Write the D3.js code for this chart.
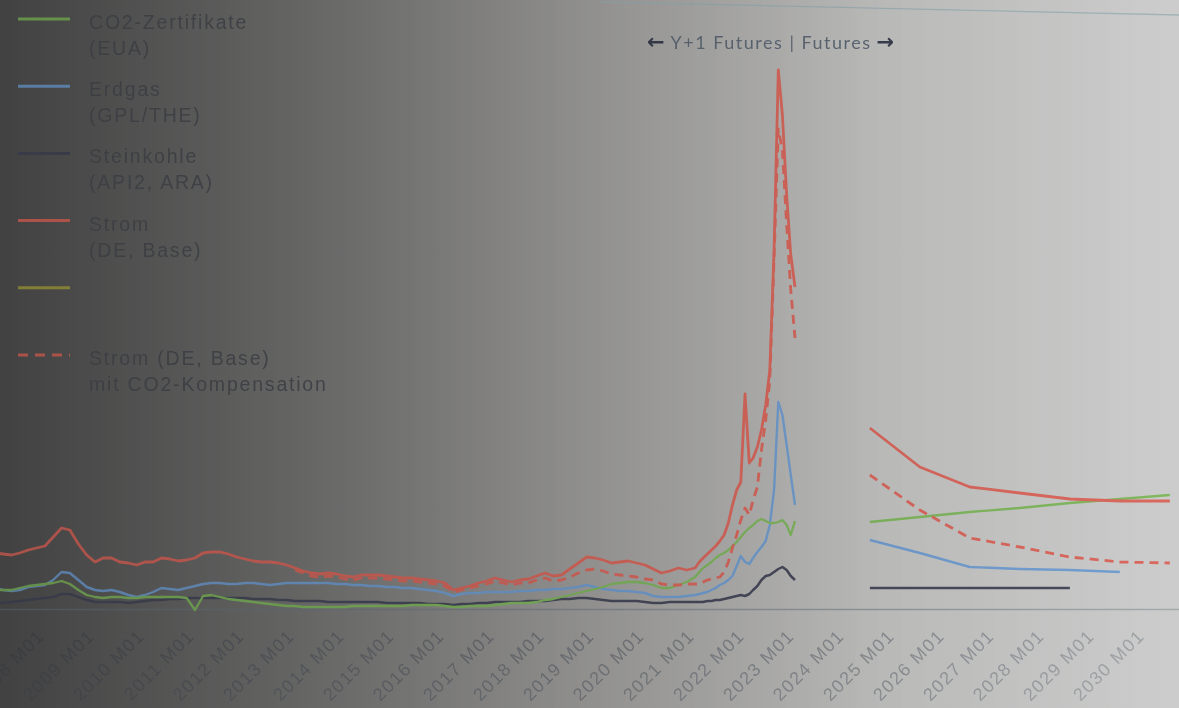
<!DOCTYPE html>
<html><head><meta charset="utf-8">
<script src="https://cdn.jsdelivr.net/npm/d3@7"></script>
<style>html,body{margin:0;padding:0;background:#777;overflow:hidden}svg{display:block}</style>
</head><body>
<svg id="c" width="1179" height="708"></svg>
<script>
// ---------- DATA ----------
// historical dates: every 2nd month 2007-2020, monthly 2021 - Jan 2023
const histDates = [
  ...d3.timeMonth.every(2).range(new Date(2007,0,1), new Date(2021,0,1)),
  ...d3.timeMonth.range(new Date(2021,0,1), new Date(2023,1,1))
];
const powerHist = [
  57,56,55,57,60,62,  64,73,82,80,66,55,  48,52,52,48,47,45,  48,48,52,51,49,50,
  52,57,58,58,56,53,  51,49,48,48,47,45,  42,39,37,36,37,36,  34,33,35,35,35,34,
  33,32,32,31,30,29,  27,20,22,24,27,29,  32,30,28,30,31,34,  37,34,35,41,47,53,
  52,50,47,48,49,47,  45,41,37,39,42,40,
  42,48,52,56,60,64,69,75,87,105,120,128,
  216,147,152,163,180,205,240,360,540,495,415,355,
  323
];
const powerCompHist = [
  null,null,null,null,null,null, null,null,null,null,null,null, null,null,null,null,null,null,
  null,null,null,null,null,null, null,null,null,null,null,null, null,null,null,null,null,null,
  40,37,34,33,34,33,  31,30,32,32,32,31,  30,29,29,28,27,26,  24,18,20,22,24,26,
  29,27,25,27,27,30,  32,29,30,33,37,40,  41,39,36,35,34,33,  31,30,26,25,25,26,
  26,26,28,30,31,32,33,38,48,62,75,90,
  102,95,110,123,160,190,230,350,481,460,385,320,
  272
];
const gasHist = [
  22,20,19,20,23,24,  25,30,38,37,30,23,  20,19,20,18,15,13,  15,18,22,21,20,22,
  24,26,27,27,26,26,  27,27,26,25,26,27,  27,27,27,27,27,26,  26,25,25,24,24,23,
  23,22,22,21,20,19,  17,14,16,17,17,18,  18,18,18,19,19,20,  20,21,21,22,23,25,
  23,21,20,19,19,18,  17,14,13,13,13,14,
  15,16,17,18,20,22,25,27,30,34,44,54,
  48,46,52,58,63,69,85,120,208,195,165,135,
  105
];
const co2Hist = [
  20,20,20,22,24,25,  26,27,29,26,20,15,  13,12,13,13,12,12,  13,13,13,13,13,12,
  0,14,15,13,11,10,   9,8,7,6,5,4,        4,3,3,3,3,3,        3,4,4,4,4,4,
  4,4,5,5,5,5,        4,3,3,4,4,4,        5,6,7,7,7,8,        10,11,13,15,17,19,
  21,23,26,27,28,28,  27,25,22,22,25,28,
  33,38,42,45,48,52,55,57,60,64,68,73,
  78,82,85,89,91,89,87,87,88,90,85,75,
  89
];
const coalHist = [
  7,7,8,9,10,11,      12,13,16,16,13,10,  8,8,8,8,7,8,        9,10,10,11,11,12,
  12,12,12,12,12,12,  12,11,11,11,10,10,  9,9,9,9,8,8,        8,8,8,8,8,7,
  7,7,7,7,6,6,        6,5,6,6,7,7,        8,8,8,8,9,9,        9,10,11,11,12,12,
  11,10,9,9,9,9,      8,7,7,8,8,8,
  8,8,8,9,9,10,10,11,12,13,14,15,
  14,16,20,24,30,34,35,38,41,43,40,34,
  30
];
// futures (calendar years, plotted mid-year)
const futYears = [2024,2025,2026,2027,2028,2029,2030];
const powerFut     = [182,143,123,117,111,109,109];
const powerCompFut = [135,100,72,63,53,48,47];
const co2Fut       = [88,93,98,102,107,111,115];
const gasFut       = [70,57,43,41,40,38,null];
const coalFut      = [22,22,22,22,22,null,null];

const tickYears = [2008,2009,2010,2011,2012,2013,2014,2015,2016,2017,2018,2019,
                   2020,2021,2022,2023,2024,2025,2026,2027,2028,2029,2030];
const legendLabels = [
  ["CO2-Zertifikate","(EUA)"],
  ["Erdgas","(GPL/THE)"],
  ["Steinkohle","(API2, ARA)"],
  ["Strom","(DE, Base)"],
  [],
  ["Strom (DE, Base)","mit CO2-Kompensation"]
];
const annotation = ["Y+1 Futures | Futures"];

// ---------- STYLE ----------
const C = {co2:"#8fcc6a", gas:"#7fb0e8", coal:"#505366", power:"#f27468", olive:"#b8b24e"};
const W = 1179, H = 708;

const svg = d3.select("#c");
const defs = svg.append("defs");
function grad(id, stops){
  const g = defs.append("linearGradient").attr("id",id)
    .attr("gradientUnits","userSpaceOnUse").attr("x1",0).attr("y1",0).attr("x2",W).attr("y2",0);
  stops.forEach(s=>g.append("stop").attr("offset",s[0]).attr("stop-color",s[1]).attr("stop-opacity",s[2]==null?1:s[2]));
}
grad("bg",[[0,"#5e5e5e"],[0.25,"#868685"],[0.5,"#b5b4b2"],[0.75,"#dadad9"],[1,"#e4e4e4"]]);
grad("shade",[[0,"#000",0.3],[0.25,"#000",0.25],[0.5,"#000",0.2],[0.75,"#000",0.15],[1,"#000",0.1]]);
grad("axisInk",[[0,"#6e757c"],[1,"#b8bec0"]]);
const inkAt = d3.scaleLinear().domain([0,W]).range(["#505359","#b4b8bc"]).clamp(true);
defs.append("filter").attr("id","soft").attr("x",-0.05).attr("y",-0.05).attr("width",1.1).attr("height",1.1)
  .attr("color-interpolation-filters","sRGB")
  .append("feGaussianBlur").attr("stdDeviation",0.75);

const root = svg.append("g").attr("filter","url(#soft)");
root.append("rect").attr("width",W).attr("height",H).attr("fill","url(#bg)");

// scales
const x = d3.scaleTime().domain([new Date(2007,0,1), new Date(2031,0,1)]).range([-5,1195]);
const y = d3.scaleLinear().domain([0,550]).range([610,60]);

// faint frame line at top (photo)
root.append("line").attr("x1",600).attr("y1",2).attr("x2",W).attr("y2",15)
  .attr("stroke","#a9c2c8").attr("stroke-width",1.3).attr("opacity",0.8);

// x axis
const xAxis = d3.axisBottom(x)
  .tickValues(tickYears.map(yr=>new Date(yr,0,1)))
  .tickFormat(d=>d.getFullYear()+" M01")
  .tickSize(0);
const gx = root.append("g").attr("transform","translate(0,609)").call(xAxis);
gx.select(".domain").attr("stroke","url(#axisInk)").attr("stroke-width",1.5);
gx.selectAll(".tick text")
  .attr("x",0).attr("y",0).attr("dy",0)
  .attr("transform","translate(0,28) rotate(-45)")
  .attr("text-anchor","end")
  .attr("fill",d=>inkAt(x(d)))
  .style("font-family","'Liberation Sans', Arial, sans-serif")
  .style("font-size","18px")
  .style("letter-spacing","1.5px");

// lines
const lineGen = d3.line().defined(d=>d[1]!=null).x(d=>x(d[0])).y(d=>y(d[1])).curve(d3.curveLinear);
const histSeries = [
  {v:coalHist, c:C.coal, w:2.5},
  {v:gasHist, c:C.gas, w:2.4},
  {v:co2Hist, c:C.co2, w:2.3},
  {v:powerHist, c:C.power, w:2.8},
  {v:powerCompHist, c:C.power, w:2.8, dash:"9 6"}
];
const futSeries = [
  {v:coalFut, c:C.coal, w:2.5},
  {v:gasFut, c:C.gas, w:2.4},
  {v:co2Fut, c:C.co2, w:2.3},
  {v:powerFut, c:C.power, w:2.8},
  {v:powerCompFut, c:C.power, w:2.8, dash:"9 6"}
];
const futDates = futYears.map(yr=>new Date(yr,6,1));
const lines = root.append("g").attr("fill","none").attr("stroke-linejoin","round");
histSeries.forEach(s=>{
  lines.append("path").datum(histDates.map((d,i)=>[d,s.v[i]]))
    .attr("d",lineGen).attr("stroke",s.c).attr("stroke-width",s.w)
    .attr("stroke-dasharray",s.dash||null);
});
futSeries.forEach(s=>{
  lines.append("path").datum(futDates.map((d,i)=>[d,s.v[i]]))
    .attr("d",lineGen).attr("stroke",s.c).attr("stroke-width",s.w)
    .attr("stroke-dasharray",s.dash||null);
});

// legend
const legColors = [C.co2, C.gas, C.coal, C.power, C.olive, C.power];
const leg = root.append("g");
legendLabels.forEach((lab,i)=>{
  const yy = 19 + i*67.2;
  leg.append("line").attr("x1",18).attr("x2",70).attr("y1",yy).attr("y2",yy)
    .attr("stroke",legColors[i]).attr("stroke-width",3)
    .attr("stroke-dasharray", i===5 ? "10 7" : null);
  const t = leg.append("text").attr("x",89).attr("y",yy+10)
    .attr("fill","#55585e")
    .style("font-family","'Liberation Sans', Arial, sans-serif")
    .style("font-size","19.5px").style("letter-spacing","1.8px");
  lab.forEach((s,k)=>t.append("tspan").attr("x",89).attr("dy",k?26:0).text(s));
});

// annotation
const ann = root.append("text").attr("x",647).attr("y",49)
  .style("font-family","Lato, 'Open Sans', sans-serif").style("font-size","18px");
ann.append("tspan").text("\u2190").attr("fill","#3f4556")
  .style("font-family","'DejaVu Sans', sans-serif").style("font-weight","bold").style("font-size","21px");
ann.append("tspan").attr("dx",6).text(annotation[0]).attr("fill","#6a7683").style("letter-spacing","1.5px");
ann.append("tspan").attr("dx",5).text("\u2192").attr("fill","#3f4556")
  .style("font-family","'DejaVu Sans', sans-serif").style("font-weight","bold").style("font-size","21px");

// photo shading overlay
root.append("rect").attr("width",W).attr("height",H).attr("fill","url(#shade)");
</script>
</body></html>
